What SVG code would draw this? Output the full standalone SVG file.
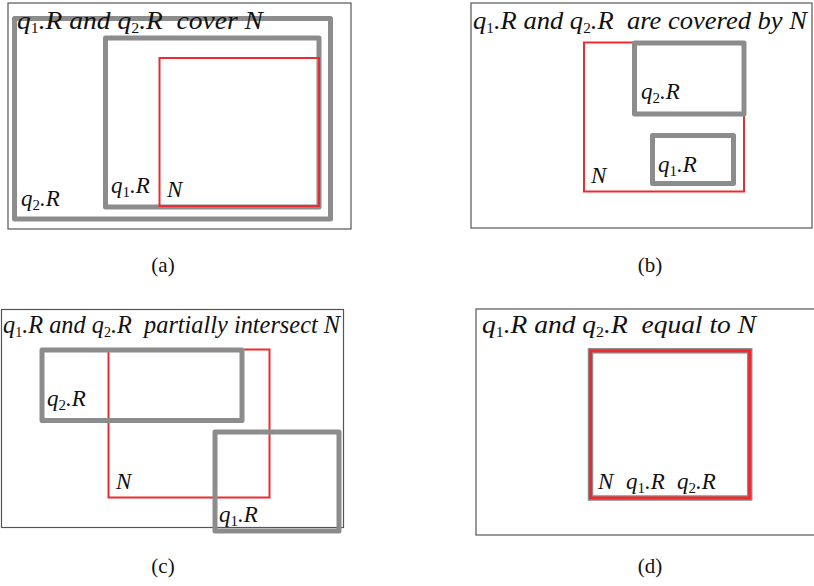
<svg xmlns="http://www.w3.org/2000/svg" width="814" height="586" viewBox="0 0 814 586">
<style>
text{font-family:'Liberation Serif','Times New Roman',serif;fill:#111}
.frame{fill:none;stroke:#555;stroke-width:1.2}
.g{fill:none;stroke:#8c8c8c;stroke-width:5;stroke-linejoin:round}
.r{fill:none;stroke:#ee2a2e;stroke-width:2}
.gd{fill:none;stroke:#8c8c8c;stroke-width:5.5}
.rd{fill:none;stroke:#ee2a2e;stroke-width:3}
.t{font-style:italic;font-size:26px}
.l{font-style:italic;font-size:23px}
.s{font-size:15px;font-style:normal}
.cap{font-size:21px;text-anchor:middle}
</style>
<rect width="814" height="586" fill="#fff"/>

<g id="panel-a">
<rect class="frame" x="8" y="3" width="343" height="226"/>
<g id="a-q2R"><rect class="g" x="14.5" y="18.5" width="316" height="200.5"/>
<text class="l" x="21" y="206">q<tspan class="s" dy="4">2</tspan><tspan dy="-4">.R</tspan></text></g>
<g id="a-q1R"><rect class="g" x="105.5" y="38" width="213.5" height="169"/>
<text class="l" x="111" y="193">q<tspan class="s" dy="4">1</tspan><tspan dy="-4">.R</tspan></text></g>
<g id="a-N"><rect class="r" x="159.5" y="58" width="159.5" height="148"/>
<text class="l" x="167" y="197">N</text></g>
<text class="t" x="17" y="29" textLength="246" lengthAdjust="spacingAndGlyphs">q<tspan class="s" dy="4">1</tspan><tspan dy="-4">.R and q</tspan><tspan class="s" dy="4">2</tspan><tspan dy="-4">.R &#160;cover N</tspan></text>
<text class="cap" x="163" y="272">(a)</text>
</g>

<g id="panel-b">
<rect class="frame" x="471" y="3" width="341" height="225"/>
<g id="b-N"><rect class="r" x="584" y="42.5" width="160" height="149"/>
<text class="l" x="591" y="183">N</text></g>
<g id="b-q2R"><rect class="g" x="634.5" y="43" width="109.5" height="71"/>
<text class="l" x="641" y="99">q<tspan class="s" dy="4">2</tspan><tspan dy="-4">.R</tspan></text></g>
<g id="b-q1R"><rect class="g" x="652.5" y="135.5" width="81" height="48"/>
<text class="l" x="658" y="172">q<tspan class="s" dy="4">1</tspan><tspan dy="-4">.R</tspan></text></g>
<text class="t" x="473" y="29" textLength="334" lengthAdjust="spacingAndGlyphs">q<tspan class="s" dy="4">1</tspan><tspan dy="-4">.R and q</tspan><tspan class="s" dy="4">2</tspan><tspan dy="-4">.R &#160;are covered by N</tspan></text>
<text class="cap" x="650" y="272">(b)</text>
</g>

<g id="panel-c">
<rect class="frame" x="1.5" y="309.5" width="342" height="218"/>
<g id="c-N"><rect class="r" x="108.5" y="349.5" width="161" height="148"/>
<text class="l" x="116" y="489">N</text></g>
<g id="c-q2R"><rect class="g" x="42" y="350" width="200" height="70.5"/>
<text class="l" x="47" y="406">q<tspan class="s" dy="4">2</tspan><tspan dy="-4">.R</tspan></text></g>
<g id="c-q1R"><rect class="g" x="215" y="432" width="124" height="99"/>
<text class="l" x="219" y="522">q<tspan class="s" dy="4">1</tspan><tspan dy="-4">.R</tspan></text></g>
<text class="t" x="3" y="332.5" textLength="337" lengthAdjust="spacingAndGlyphs">q<tspan class="s" dy="4">1</tspan><tspan dy="-4">.R and q</tspan><tspan class="s" dy="4">2</tspan><tspan dy="-4">.R &#160;partially intersect N</tspan></text>
<text class="cap" x="163" y="573">(c)</text>
</g>

<g id="panel-d">
<rect class="frame" x="476" y="309" width="340" height="226"/>
<g id="d-rects"><rect class="gd" x="590.5" y="350.8" width="159.2" height="147.2"/>
<rect class="rd" x="590.5" y="350.8" width="159.2" height="147.2"/></g>
<text class="l" x="598" y="489">N</text>
<text class="l" x="626" y="489">q<tspan class="s" dy="4">1</tspan><tspan dy="-4">.R</tspan></text>
<text class="l" x="677" y="489">q<tspan class="s" dy="4">2</tspan><tspan dy="-4">.R</tspan></text>
<text class="t" x="482" y="332.5" textLength="274" lengthAdjust="spacingAndGlyphs">q<tspan class="s" dy="4">1</tspan><tspan dy="-4">.R and q</tspan><tspan class="s" dy="4">2</tspan><tspan dy="-4">.R &#160;equal to N</tspan></text>
<text class="cap" x="650" y="573">(d)</text>
</g>
</svg>
